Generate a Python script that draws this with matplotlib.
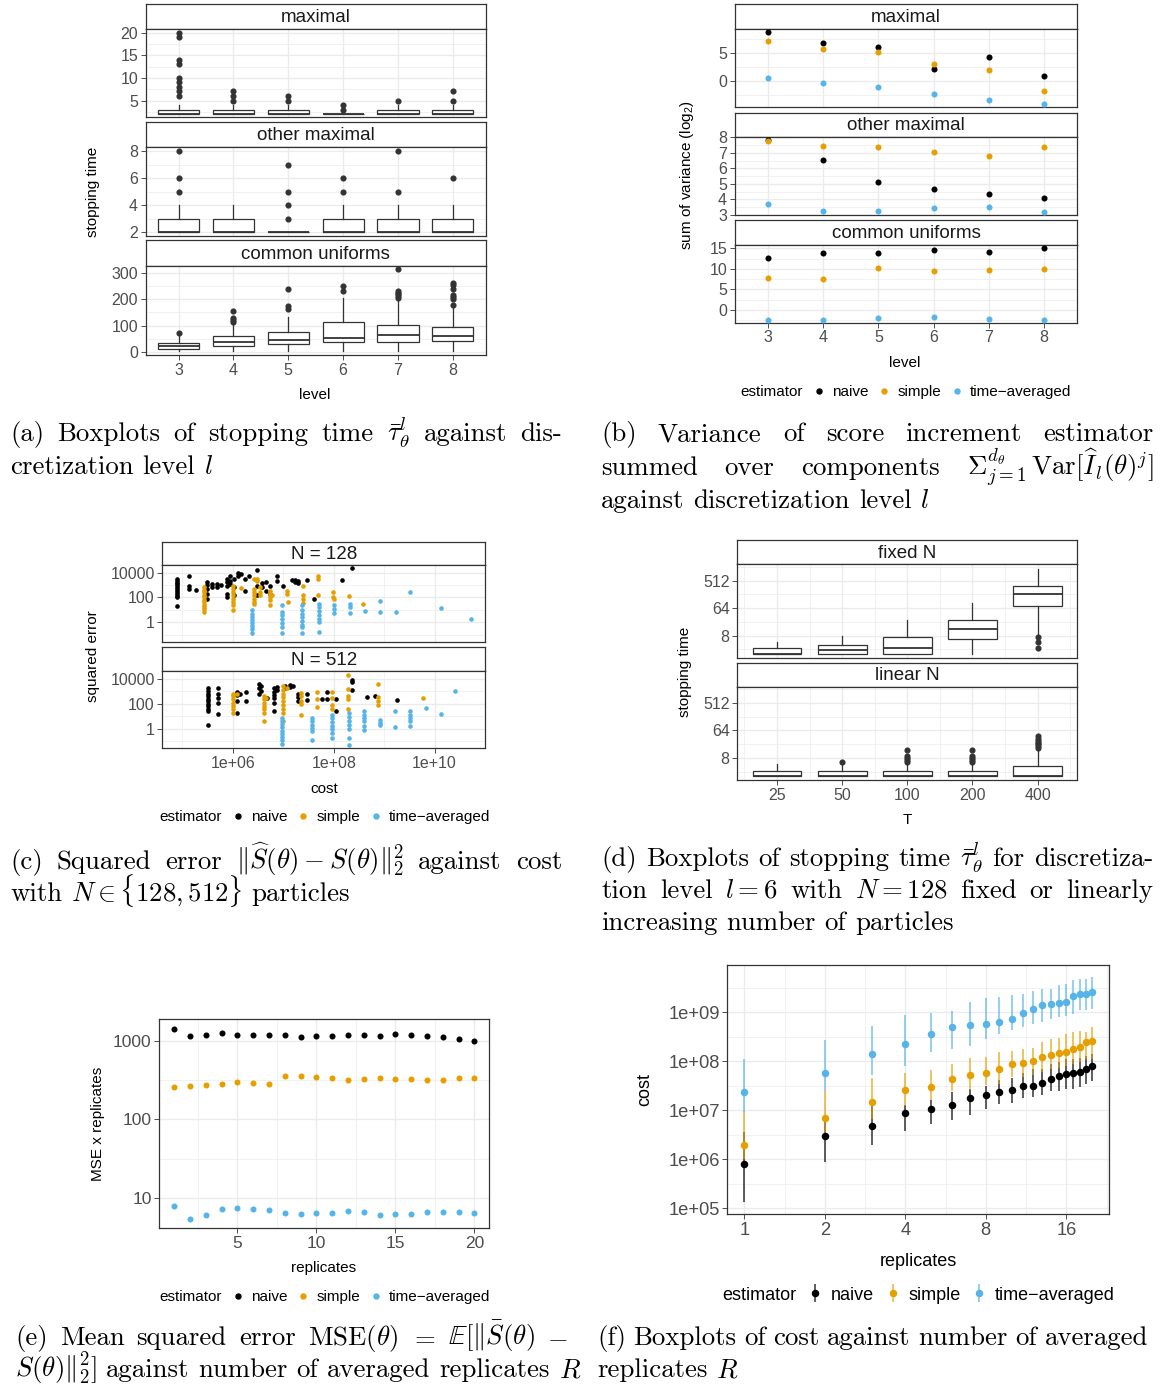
import numpy as np
import matplotlib
matplotlib.use('Agg')
import matplotlib.pyplot as plt
from matplotlib.lines import Line2D
from matplotlib.ticker import NullFormatter

W, H = 1163, 1385
plt.rcParams['font.family'] = ['Liberation Sans', 'DejaVu Sans']

DARK = '#333333'
GRID = '#EBEBEB'
TICKC = '#4D4D4D'
COLS = {'naive': '#000000', 'simple': '#E69F00', 'avg': '#56B4E9'}
TICK = 11.5
TITLE = 11
STRIP = 13.5
CAP = 19.3

# ---------------- data: (a) stopping time boxplots ----------------
levels = [3, 4, 5, 6, 7, 8]
# maximal coupling
max_q1 = [2, 2, 2, 2, 2, 2]
max_med = [2, 2, 2, 2, 2, 2]
max_q3 = [3, 3, 3, 2, 3, 3]
max_lo = [2, 2, 2, 2, 2, 2]
max_hi = [4, 4, 4, 2, 4, 4]
max_out = [[6, 7, 8, 9, 10, 13, 14, 19, 20], [5, 6, 7], [5, 6], [3, 4], [5], [5, 7]]
# other maximal coupling
oth_q1 = [2, 2, 2, 2, 2, 2]
oth_med = [2, 2, 2, 2, 2, 2]
oth_q3 = [3, 3, 2, 3, 3, 3]
oth_lo = [2, 2, 2, 2, 2, 2]
oth_hi = [4, 4, 2, 4, 4, 4]
oth_out = [[5, 6, 8], [], [3, 4, 5, 7], [5, 6], [5, 8], [6]]
# common uniforms
cu_q1 = [11.6, 21.6, 30.6, 35.6, 35.6, 39.5]
cu_med = [20.4, 35.6, 45.9, 53.5, 62.5, 61.2]
cu_q3 = [33.3, 58.6, 74, 113, 101.6, 92.6]
cu_lo = [4, 4, 4, 3, 3, 4]
cu_hi = [65, 103, 133, 204, 195, 170]
cu_out = [[73], [112, 120, 130, 156], [162, 175, 241], [232, 253],
          [204, 212, 220, 226, 232, 315], [180, 203, 210, 216, 239, 257, 264]]

# ---------------- data: (b) log2 sum of variance ----------------
var_max_naive = [8.69, 6.73, 6.01, 2.02, 4.23, 0.77]
var_max_simple = [7.08, 5.71, 5.06, 2.98, 1.85, -1.79]
var_max_avg = [0.48, -0.42, -1.13, -2.32, -3.45, -4.17]
var_oth_naive = [7.83, 6.54, 5.13, 4.65, 4.37, 4.12]
var_oth_simple = [7.79, 7.46, 7.40, 7.08, 6.82, 7.36]
var_oth_avg = [3.73, 3.28, 3.26, 3.47, 3.54, 3.19]
var_cu_naive = [12.73, 13.79, 13.79, 14.6, 14.1, 15.0]
var_cu_simple = [7.87, 7.46, 10.3, 9.57, 9.65, 10.06]
var_cu_avg = [-2.51, -2.43, -1.87, -1.78, -2.27, -2.43]

# ---------------- data: (c) squared error vs cost (log10 cost, log10 errors) ----------------
c128_naive = [
    (4.89, [3.5, 3.35, 3.2, 3.05, 2.9, 2.75, 2.6, 2.45, 2.3, 2.15, 2.05, 1.28]),
    (5.12, [3.71, 2.96, 2.69]), (5.27, [2.61]), (5.48, [3.28, 3.01, 2.69, 2.29, 1.89]),
    (5.58, [3.09, 2.83]), (5.68, [3.09, 2.83]), (5.77, [3.01]),
    (5.88, [3.49, 3.23, 2.96, 2.29, 2.03]), (5.95, [3.71, 3.36, 3.09]),
    (6.02, [3.49, 2.83, 2.16]), (6.11, [3.97, 3.76]), (6.16, [3.89]), (6.24, [3.49, 2.56]),
    (6.31, [3.76]), (6.48, [4.24, 2.96, 2.16]), (6.575, [3.17, 2.83]), (6.66, [3.23, 2.56]),
    (6.74, [2.96, 2.29]), (6.87, [3.71, 3.36]), (7.00, [2.91]), (7.17, [3.44]),
    (7.24, [3.44, 3.28]), (7.30, [3.36, 3.17]), (7.47, [3.44]), (7.61, [1.84]),
    (8.16, [3.44]), (8.36, [4.37]),
]
c128_simple = [
    (5.42, [2.83, 2.63, 2.43, 2.23, 2.03, 1.83, 1.63, 1.43, 1.23, 1.03, 0.83]),
    (6.01, [2.96, 2.7, 2.43, 2.16, 1.89, 1.63, 1.36, 0.96]), (6.16, [2.75]),
    (6.41, [3.49, 2.69, 2.43, 2.16, 1.89, 1.63, 1.49]), (6.48, [3.49, 3.36]),
    (6.54, [2.83, 2.48, 2.16]), (6.74, [2.56, 2.29, 2.03, 1.76, 1.36]), (6.77, [2.16]),
    (7.07, [2.56, 2.24]), (7.10, [1.63]), (7.40, [2.91, 2.21, 1.89, 1.57]),
    (7.68, [3.76, 3.49, 2.16]), (7.98, [2.48, 2.03]), (8.01, [1.84]), (8.30, [2.08]),
    (8.58, [1.47]),
]
c128_avg = [
    (6.38, [0.96, 0.7, 0.45, 0.2, -0.05, -0.3, -0.55, -0.83]),
    (6.97, [1.36, 0.83, 0.55, 0.25, -0.05, -0.37, -0.85]),
    (7.37, [1.36, 1.0, 0.7, 0.4, 0.1, -0.2, -0.37, -0.83]),
    (7.70, [1.49, 1.2, 0.9, 0.6, 0.3, 0.03, -0.77]),
    (8.00, [1.39, 1.07, 0.72]), (8.33, [1.49, 1.23, 0.77]), (8.62, [0.91]),
    (8.92, [1.68, 0.83]), (9.23, [0.83]), (9.52, [2.43]), (10.13, [1.15]), (10.72, [0.24]),
]
c512_naive = [
    (5.50, [3.22, 3.0, 2.8, 2.6, 2.4, 2.2, 2.0, 1.8, 1.6, 1.45, 0.27]),
    (5.71, [3.22, 2.79, 2.42, 2.07, 1.19]), (6.09, [2.95, 2.69, 2.20, 1.27]), (6.14, [2.79]),
    (6.26, [2.95, 2.20]), (6.51, [3.54, 3.28, 2.74]), (6.555, [3.41, 3.01]), (6.67, [2.47]),
    (6.81, [3.22, 2.95, 2.69, 2.42, 2.07, 1.45]), (6.87, [3.33, 3.06]), (7.04, [3.41, 3.28]),
    (7.14, [3.49, 3.33]), (7.20, [3.41]), (7.30, [2.79, 2.53, 2.20]), (7.47, [2.74, 2.26]),
    (7.77, [2.34]), (7.86, [2.95, 2.34]), (8.05, [2.34, 1.45]), (8.36, [3.87, 3.76, 3.06]),
    (8.66, [2.53]), (8.82, [2.61]), (9.25, [2.28]),
]
c512_simple = [
    (6.01, [2.79, 2.6, 2.35, 2.07, 1.8, 1.54, 1.27]), (6.08, [2.74]),
    (6.61, [2.61, 2.34, 2.07, 1.8, 1.54, 1.27, 0.65]), (6.66, [2.42]),
    (7.00, [3.41, 3.1, 2.8, 2.5, 2.2, 1.9, 1.6, 1.27, 0.65]), (7.07, [3.28]),
    (7.35, [2.88, 2.61, 2.20, 1.94, 1.08]), (7.67, [2.95, 2.34, 1.72]),
    (7.96, [2.95, 2.47, 1.88, 1.61]), (8.28, [4.29, 3.14, 2.61, 2.34, 1.61]),
    (8.87, [3.6, 2.53, 2.20, 1.88]), (9.78, [2.42]),
]
c512_avg = [
    (6.97, [0.86, 0.6, 0.35, 0.1, -0.15, -0.4, -0.65, -0.9, -1.23]),
    (7.57, [0.86, 0.6, 0.33, 0.06, -0.21, -0.88]),
    (7.96, [1.13, 0.85, 0.55, 0.25, -0.05, -0.35, -0.75]),
    (8.30, [1.27, 0.95, 0.6, 0.3, -0.05, -0.75, -1.33]),
    (8.61, [1.45, 1.13, 0.86, 0.6, 0.2, -0.07]), (8.92, [0.72, 0.45, 0.26]),
    (9.22, [1.45, 0.12]), (9.52, [1.4, 1.13, 0.86, 0.6, 0.2]), (9.83, [1.67]),
    (10.13, [1.19]), (10.41, [3.01]),
]

# ---------------- data: (d) stopping time vs T ----------------
T_labels = ['25', '50', '100', '200', '400']
fix_q1 = [2, 2, 2, 6.1, 73.6]
fix_med = [2, 2.6, 3.2, 13.3, 183]
fix_q3 = [3, 4, 7.3, 25.5, 343]
fix_lo = [2, 2, 2, 2, 8]
fix_hi = [5, 8, 26, 92, 1210]
fix_out = [[], [], [], [], [7, 5, 3]]
lin_q1 = [2, 2, 2, 2, 2]
lin_med = [2, 2, 2, 2, 2]
lin_q3 = [3, 3, 3, 3, 4.3]
lin_lo = [2, 2, 2, 2, 2]
lin_hi = [5, 5, 5, 5, 15]
lin_out = [[], [6], [6, 7, 8, 9, 14], [6, 7, 8, 9, 14], [17, 19, 22, 25, 29, 34, 41]]

# ---------------- data: (e) MSE x replicates ----------------
reps = list(range(1, 21))
mse_naive = [1406, 1146, 1180, 1240, 1169, 1191, 1169, 1180, 1113, 1158,
             1135, 1180, 1191, 1146, 1203, 1180, 1158, 1124, 1040, 990]
mse_simple = [258, 266, 274, 279, 296, 290, 285, 360, 360, 346,
              340, 320, 326, 340, 330, 326, 317, 320, 333, 333]
mse_avg = [7.9, 5.52, 6.08, 7.24, 7.53, 7.38, 7.11, 6.46, 6.27, 6.51,
           6.46, 6.9, 6.64, 6.21, 6.33, 6.33, 6.64, 6.72, 6.72, 6.58]

# ---------------- data: (f) cost vs replicates (log10 values) ----------------
cost_avg_mid = [7.38, 7.75, 8.14, 8.36, 8.56, 8.70, 8.73, 8.77, 8.81, 8.86,
                8.99, 9.07, 9.14, 9.16, 9.19, 9.21, 9.34, 9.37, 9.37, 9.41]
cost_avg_hi = [8.05, 8.44, 8.71, 8.95, 8.99, 9.02, 9.20, 9.29, 9.31, 9.35,
               9.38, 9.44, 9.48, 9.48, 9.55, 9.58, 9.65, 9.67, 9.67, 9.72]
cost_avg_lo = [6.97, 7.39, 7.71, 7.91, 8.18, 8.25, 8.31, 8.46, 8.56, 8.63,
               8.70, 8.77, 8.80, 8.86, 8.91, 8.93, 8.97, 9.04, 9.04, 9.06]
cost_simple_mid = [6.29, 6.84, 7.16, 7.42, 7.48, 7.64, 7.71, 7.76, 7.84, 7.95,
                   7.97, 8.00, 8.08, 8.12, 8.17, 8.19, 8.24, 8.29, 8.39, 8.42]
cost_simple_hi = [6.98, 7.39, 7.65, 7.75, 7.83, 7.95, 8.07, 8.09, 8.18, 8.20,
                  8.24, 8.26, 8.39, 8.45, 8.48, 8.56, 8.59, 8.61, 8.60, 8.70]
cost_simple_lo = [6.01, 6.49, 6.83, 7.09, 7.20, 7.39, 7.41, 7.51, 7.54, 7.68,
                  7.68, 7.71, 7.78, 7.85, 7.86, 7.90, 7.95, 7.99, 8.05, 8.05]
cost_naive_mid = [5.90, 6.48, 6.67, 6.95, 7.03, 7.10, 7.24, 7.32, 7.37, 7.42,
                  7.49, 7.50, 7.56, 7.63, 7.69, 7.73, 7.76, 7.77, 7.84, 7.90]
cost_naive_hi = [6.56, 6.83, 7.10, 7.10, 7.20, 7.37, 7.44, 7.50, 7.61, 7.65,
                 7.75, 7.84, 7.85, 7.95, 7.99, 8.04, 8.05, 8.07, 8.11, 8.14]
cost_naive_lo = [5.13, 5.95, 6.29, 6.57, 6.71, 6.79, 6.91, 7.02, 7.12, 7.14,
                 7.25, 7.27, 7.32, 7.39, 7.39, 7.43, 7.44, 7.48, 7.54, 7.60]

fig = plt.figure(figsize=(W / 100, H / 100), dpi=100)


def px_axes(x0, y0, x1, y1):
    return fig.add_axes([x0 / W, 1 - y1 / H, (x1 - x0) / W, (y1 - y0) / H])


def panel(x0, x1, y0, y1, bottom=True):
    ax = px_axes(x0, y0, x1, y1)
    for s in ax.spines.values():
        s.set_color(DARK)
        s.set_linewidth(0.9)
    ax.set_axisbelow(True)
    ax.grid(which='major', color=GRID, lw=1.0)
    ax.grid(which='minor', color=GRID, lw=0.5)
    ax.tick_params(which='major', length=3.5, width=0.6, color=DARK,
                   labelsize=TICK, labelcolor=TICKC, pad=2)
    ax.tick_params(which='minor', length=0)
    if not bottom:
        ax.tick_params(axis='x', which='both', length=0, labelbottom=False)
    return ax


def strip(x0, x1, y0, y1, label):
    ax = px_axes(x0, y0, x1, y1)
    ax.set_xticks([])
    ax.set_yticks([])
    for s in ax.spines.values():
        s.set_color(DARK)
        s.set_linewidth(0.9)
    ax.text(0.5, 0.45, label, ha='center', va='center', fontsize=STRIP,
            color='#1A1A1A', transform=ax.transAxes)


def set_ticks(ax, axis, major, labels, minor=()):
    a = ax.xaxis if axis == 'x' else ax.yaxis
    a.set_ticks(major, labels=labels)
    a.set_ticks(list(minor), minor=True)
    a.set_minor_formatter(NullFormatter())


def stats(q1, med, q3, lo, hi, out):
    return [dict(q1=a, med=b, q3=c, whislo=d, whishi=e, fliers=f)
            for a, b, c, d, e, f in zip(q1, med, q3, lo, hi, out)]


def boxes(ax, st, pos):
    ax.bxp(st, positions=pos, widths=0.75, patch_artist=True, showcaps=False,
           manage_ticks=False,
           boxprops=dict(facecolor='white', edgecolor=DARK, linewidth=0.9),
           medianprops=dict(color=DARK, linewidth=1.3),
           whiskerprops=dict(color=DARK, linewidth=0.9),
           flierprops=dict(marker='o', markerfacecolor=DARK, markeredgecolor=DARK,
                           markersize=3.4, linestyle='none'))


def legend(cx, cy, handles, size=11):
    blank = Line2D([], [], linestyle='none')
    fig.legend([blank] + handles, ['estimator', 'naive', 'simple', 'time\u2212averaged'],
               loc='center', bbox_to_anchor=(cx / W, 1 - cy / H), ncol=4, frameon=False,
               fontsize=size, handlelength=0.6, handletextpad=0.55, columnspacing=0.75,
               borderpad=0, borderaxespad=0)


def dot(c, ms=3.6):
    return Line2D([], [], marker='o', linestyle='none', color=c, markersize=ms)


def split_words(s):
    words, cur, inmath = [], '', False
    for ch in s:
        if ch == '$':
            inmath = not inmath
        if ch == ' ' and not inmath:
            if cur:
                words.append(cur)
            cur = ''
        else:
            cur += ch
    if cur:
        words.append(cur)
    return words


def caption(x0, x1, y, s, justify=True):
    words = split_words(s)
    ts = [fig.text(0, 1 - y / H, w, fontsize=CAP, family='cmr10', math_fontfamily='cm',
                   va='baseline', ha='left') for w in words]
    r = fig.canvas.get_renderer()
    ws = [t.get_window_extent(r).width for t in ts]
    if justify and len(ws) > 1:
        gap = (x1 - x0 - sum(ws)) / (len(ws) - 1)
    else:
        gap = CAP * 100 / 72 * 0.333
    x = x0
    for t, w in zip(ts, ws):
        t.set_x(x / W)
        x += w + gap


# ================= (a) =================
ax_x0, ax_x1 = 145.7, 485.7
pos = list(range(1, 7))
a_panels = [((4, 29), (29, 117.3), 'maximal', stats(max_q1, max_med, max_q3, max_lo, max_hi, max_out),
             (1.3, 20.8), [5, 10, 15, 20], [2.5, 7.5, 12.5, 17.5]),
            ((122.3, 147), (147, 236), 'other maximal', stats(oth_q1, oth_med, oth_q3, oth_lo, oth_hi, oth_out),
             (1.73, 8.3), [2, 4, 6, 8], [3, 5, 7]),
            ((240, 265.7), (265.7, 355), 'common uniforms', stats(cu_q1, cu_med, cu_q3, cu_lo, cu_hi, cu_out),
             (-12.6, 329), [0, 100, 200, 300], [50, 150, 250])]
for i, (sy, py, lab, st, ylim, maj, mnr) in enumerate(a_panels):
    strip(ax_x0, ax_x1, sy[0], sy[1], lab)
    ax = panel(ax_x0, ax_x1, py[0], py[1], bottom=(i == 2))
    boxes(ax, st, pos)
    ax.set_xlim(0.4, 6.6)
    ax.set_ylim(*ylim)
    set_ticks(ax, 'x', pos, [str(l) for l in levels])
    set_ticks(ax, 'y', maj, [str(m) for m in maj], mnr)
fig.text(315 / W, 1 - 395 / H, 'level', ha='center', va='center', fontsize=TITLE)
fig.text(93 / W, 1 - 192 / H, 'stopping time', ha='center', va='center', fontsize=TITLE, rotation=90)

# ================= (b) =================
bx0, bx1 = 734.7, 1077.3
b_panels = [((4.3, 29), (29, 107), 'maximal', (var_max_naive, var_max_simple, var_max_avg),
             (-4.70, 9.23), [0, 5], [-2.5, 2.5, 7.5]),
            ((112.7, 136.7), (136.7, 215.3), 'other maximal', (var_oth_naive, var_oth_simple, var_oth_avg),
             (2.98, 8.04), [3, 4, 5, 6, 7, 8], [3.5, 4.5, 5.5, 6.5, 7.5]),
            ((220.3, 244.7), (244.7, 322.7), 'common uniforms', (var_cu_naive, var_cu_simple, var_cu_avg),
             (-3.08, 15.9), [0, 5, 10, 15], [-2.5, 2.5, 7.5, 12.5])]
for i, (sy, py, lab, series, ylim, maj, mnr) in enumerate(b_panels):
    strip(bx0, bx1, sy[0], sy[1], lab)
    ax = panel(bx0, bx1, py[0], py[1], bottom=(i == 2))
    for vals, key in zip(series, ['naive', 'simple', 'avg']):
        ax.scatter(levels, vals, s=19, color=COLS[key], linewidths=0, zorder=3)
    ax.set_xlim(2.4, 8.6)
    ax.set_ylim(*ylim)
    set_ticks(ax, 'x', levels, [str(l) for l in levels])
    set_ticks(ax, 'y', maj, [str(m) for m in maj], mnr)
fig.text(905 / W, 1 - 363 / H, 'level', ha='center', va='center', fontsize=TITLE)
fig.text(687 / W, 1 - 175 / H, r'sum of variance (log$_{\mathregular{2}}$)', ha='center', va='center',
         fontsize=TITLE, rotation=90)
legend(897, 392, [dot(COLS['naive']), dot(COLS['simple']), dot(COLS['avg'])])

# ================= (c) =================
cx0, cx1 = 162.3, 485
c_panels = [((542.3, 565), (565, 641.7), 'N = 128', (c128_naive, c128_simple, c128_avg)),
            ((646.7, 671), (671, 748.3), 'N = 512', (c512_naive, c512_simple, c512_avg))]
for i, (sy, py, lab, series) in enumerate(c_panels):
    strip(cx0, cx1, sy[0], sy[1], lab)
    ax = panel(cx0, cx1, py[0], py[1], bottom=(i == 1))
    ax.set_xscale('log')
    ax.set_yscale('log')
    for cols, key in zip(series, ['naive', 'simple', 'avg']):
        xs = [10 ** c for c, ys in cols for _ in ys]
        ys = [10 ** y for c, ys in cols for y in ys]
        ax.scatter(xs, ys, s=11, color=COLS[key], linewidths=0, zorder=3)
    ax.set_xlim(10 ** 4.60, 10 ** 11.0)
    ax.set_ylim(10 ** -1.57, 10 ** 4.62)
    set_ticks(ax, 'x', [1e6, 1e8, 1e10], ['1e+06', '1e+08', '1e+10'], [1e5, 1e7, 1e9, 1e11])
    set_ticks(ax, 'y', [1, 100, 10000], ['1', '100', '10000'], [0.1, 10, 1000])
fig.text(324 / W, 1 - 789 / H, 'cost', ha='center', va='center', fontsize=TITLE)
fig.text(93 / W, 1 - 656 / H, 'squared error', ha='center', va='center', fontsize=TITLE, rotation=90)
legend(316, 817, [dot(COLS['naive']), dot(COLS['simple']), dot(COLS['avg'])])

# ================= (d) =================
dx0, dx1 = 737.3, 1077.3
tpos = list(range(len(T_labels)))
d_panels = [((539.7, 564.3), (564.3, 657.7), 'fixed N', stats(fix_q1, fix_med, fix_q3, fix_lo, fix_hi, fix_out)),
            ((662.7, 686.7), (686.7, 780), 'linear N', stats(lin_q1, lin_med, lin_q3, lin_lo, lin_hi, lin_out))]
for i, (sy, py, lab, st) in enumerate(d_panels):
    strip(dx0, dx1, sy[0], sy[1], lab)
    ax = panel(dx0, dx1, py[0], py[1], bottom=(i == 1))
    ax.set_yscale('log', base=2)
    boxes(ax, st, tpos)
    ax.set_xlim(-0.61, 4.61)
    ax.set_ylim(2 ** 0.58, 2 ** 10.77)
    set_ticks(ax, 'x', tpos, T_labels, [-0.5, 0.5, 1.5, 2.5, 3.5, 4.5])
    set_ticks(ax, 'y', [8, 64, 512], ['8', '64', '512'], [2 ** 1.5, 2 ** 4.5, 2 ** 7.5, 2 ** 10.5])
fig.text(907 / W, 1 - 820 / H, 'T', ha='center', va='center', fontsize=TITLE)
fig.text(685 / W, 1 - 672 / H, 'stopping time', ha='center', va='center', fontsize=TITLE, rotation=90)

# ================= (e) =================
ax = panel(159.3, 489.3, 1019.3, 1228.3)
ax.tick_params(which='major', labelsize=12.5)
ax.set_yscale('log')
for vals, key in zip([mse_naive, mse_simple, mse_avg], ['naive', 'simple', 'avg']):
    ax.scatter(reps, vals, s=19, color=COLS[key], linewidths=0, zorder=3)
ax.set_xlim(0.05, 20.95)
ax.set_ylim(10 ** 0.62, 10 ** 3.27)
set_ticks(ax, 'x', [5, 10, 15, 20], ['5', '10', '15', '20'], [2.5, 7.5, 12.5, 17.5])
set_ticks(ax, 'y', [10, 100, 1000], ['10', '100', '1000'], [10 ** 1.5, 10 ** 2.5])
fig.text(324 / W, 1 - 1268 / H, 'replicates', ha='center', va='center', fontsize=TITLE)
fig.text(98 / W, 1 - 1124 / H, 'MSE x replicates', ha='center', va='center', fontsize=TITLE, rotation=90)
legend(316, 1297, [dot(COLS['naive']), dot(COLS['simple']), dot(COLS['avg'])])

# ================= (f) =================
ax = panel(727.3, 1109.3, 965, 1214)
ax.tick_params(which='major', labelsize=13.2)
ax.set_xscale('log', base=2)
ax.set_yscale('log')
handles = []
for mid, lo, hi, key in [(cost_naive_mid, cost_naive_lo, cost_naive_hi, 'naive'),
                         (cost_simple_mid, cost_simple_lo, cost_simple_hi, 'simple'),
                         (cost_avg_mid, cost_avg_lo, cost_avg_hi, 'avg')]:
    m = np.power(10.0, mid)
    err = [m - np.power(10.0, lo), np.power(10.0, hi) - m]
    c = matplotlib.colors.to_rgba(COLS[key])
    h = ax.errorbar(reps, m, yerr=err, fmt='o', color=c, ecolor=(c[0], c[1], c[2], 0.8),
                    elinewidth=1.1, markersize=4.4, capsize=0, zorder=3)
    handles.append(h)
ax.set_xlim(2 ** -0.211, 2 ** 4.534)
ax.set_ylim(10 ** 4.88, 10 ** 9.965)
set_ticks(ax, 'x', [1, 2, 4, 8, 16], ['1', '2', '4', '8', '16'],
          [2 ** 0.5, 2 ** 1.5, 2 ** 2.5, 2 ** 3.5, 2 ** 4.5])
set_ticks(ax, 'y', [1e5, 1e6, 1e7, 1e8, 1e9], ['1e+05', '1e+06', '1e+07', '1e+08', '1e+09'],
          [10 ** 5.5, 10 ** 6.5, 10 ** 7.5, 10 ** 8.5, 10 ** 9.5])
fig.text(918 / W, 1 - 1261 / H, 'replicates', ha='center', va='center', fontsize=13)
fig.text(645 / W, 1 - 1090 / H, 'cost', ha='center', va='center', fontsize=13, rotation=90)
legend(908, 1295, handles, size=13)

# ================= captions =================
caption(10, 562, 441, r'(a) Boxplots of stopping time $\bar{\tau}^{l}_{\theta}$ against dis-')
caption(10, 562, 474, r'cretization level $l$', justify=False)
caption(601, 1153, 441, r'(b) Variance of score increment estimator')
caption(601, 1153, 475, r'summed over components $\Sigma_{j=1}^{d_\theta}\,\mathrm{Var}[\widehat{I}_l(\theta)^j]$')
caption(601, 1153, 508, r'against discretization level $l$', justify=False)
caption(10, 562, 869, r'(c) Squared error $\|\widehat{S}(\theta) - S(\theta)\|_2^2$ against cost')
caption(10, 562, 901, r'with $N \in \{128, 512\}$ particles', justify=False)
caption(601, 1153, 866, r'(d) Boxplots of stopping time $\bar{\tau}^{l}_{\theta}$ for discretiza-')
caption(601, 1153, 898, r'tion level $l = 6$ with $N = 128$ fixed or linearly')
caption(601, 1153, 930, r'increasing number of particles', justify=False)
caption(15, 568, 1345, r'(e) Mean squared error MSE$(\theta)$ $=$ $\mathbb{E}[\|\bar{S}(\theta)$ $-$')
caption(15, 568, 1377, r'$S(\theta)\|_2^2]$ against number of averaged replicates $R$', justify=False)
caption(597, 1148, 1345, r'(f) Boxplots of cost against number of averaged')
caption(597, 1148, 1377, r'replicates $R$', justify=False)

fig.savefig('out.png', dpi=100, facecolor='white')
